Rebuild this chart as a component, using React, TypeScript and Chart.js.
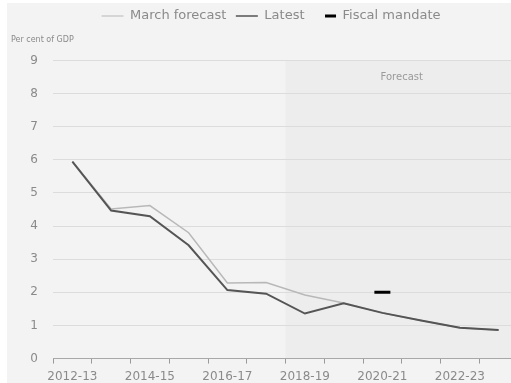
import React, { useEffect, useRef } from "react";
import { Chart, registerables } from "chart.js";

Chart.register(...registerables);

const categories = [
  "2012-13", "2013-14", "2014-15", "2015-16", "2016-17", "2017-18",
  "2018-19", "2019-20", "2020-21", "2021-22", "2022-23", "2023-24",
];
const marchForecast = [5.95, 4.52, 4.62, 3.8, 2.28, 2.3, 1.92, 1.68, 1.38, 1.15, 0.93, 0.86];
const latest = [5.95, 4.47, 4.3, 3.42, 2.07, 1.96, 1.36, 1.67, 1.38, 1.15, 0.93, 0.86];
const fiscalMandate = [null, null, null, null, null, null, null, null, 2.0, null, null, null];
const yTickValues = [0, 1, 2, 3, 4, 5, 6, 7, 8, 9];
const forecastStartIndex = 6;
const unitLabel = "Per cent of GDP";
const forecastLabel = "Forecast";

const FONT = "'DejaVu Sans', sans-serif";
const CANVAS_W = 529;
const CANVAS_H = 390;

const decorPlugin = {
  id: "decor",
  beforeDraw(chart: any) {
    const { ctx, chartArea, scales } = chart;
    const x = scales.x;
    const y = scales.y;
    ctx.save();
    ctx.fillStyle = "#ffffff";
    ctx.fillRect(0, 0, chart.width, chart.height);
    ctx.fillStyle = "#f3f3f3";
    ctx.fillRect(7, 3, chart.width - 7, chart.height - 3);
    const half = (x.getPixelForTick(1) - x.getPixelForTick(0)) / 2;
    const fx = x.getPixelForTick(forecastStartIndex) - half;
    const top = y.getPixelForValue(yTickValues[yTickValues.length - 1]);
    ctx.fillStyle = "#ededed";
    ctx.fillRect(fx, top, chart.width - fx, chartArea.bottom - top);
    ctx.restore();
  },
  afterDraw(chart: any) {
    const { ctx, scales } = chart;
    const x = scales.x;
    const y = scales.y;
    ctx.save();
    ctx.fillStyle = "#8a8a8a";
    ctx.font = "8px " + FONT;
    ctx.textAlign = "left";
    ctx.textBaseline = "middle";
    ctx.fillText(unitLabel, 11, 40);
    ctx.font = "10px " + FONT;
    ctx.fillStyle = "#9a9a9a";
    ctx.textAlign = "center";
    const half = (x.getPixelForTick(1) - x.getPixelForTick(0)) / 2;
    ctx.fillText(forecastLabel, x.getPixelForTick(8) + half, y.getPixelForValue(8.5));
    ctx.restore();
  },
};

export default function App() {
  const ref = useRef<HTMLCanvasElement>(null);
  useEffect(() => {
    if (!ref.current) return;
    Chart.defaults.font.family = FONT;
    const chart = new Chart(ref.current, {
      type: "line",
      data: {
        labels: categories,
        datasets: [
          {
            label: "March forecast",
            data: marchForecast,
            borderColor: "#b8b8b8",
            backgroundColor: "#b8b8b8",
            borderWidth: 1.5,
            pointRadius: 0,
            tension: 0,
            order: 2,
          },
          {
            label: "Latest",
            data: latest,
            borderColor: "#555555",
            backgroundColor: "#555555",
            borderWidth: 2,
            pointRadius: 0,
            tension: 0,
            order: 1,
          },
          {
            label: "Fiscal mandate",
            data: fiscalMandate as any,
            borderColor: "#000000",
            backgroundColor: "#000000",
            showLine: false,
            pointStyle: "line",
            pointRadius: 8,
            pointBorderWidth: 3,
            pointBorderColor: "#000000",
            order: 0,
          },
        ],
      },
      options: {
        responsive: false,
        animation: false,
        layout: { padding: { left: 13, right: 0, top: 0, bottom: 0 } },
        plugins: {
          tooltip: { enabled: false },
          legend: {
            display: true,
            position: "top",
            labels: {
              usePointStyle: true,
              pointStyleWidth: 22,
              padding: 9.5,
              color: "#8a8a8a",
              font: { size: 13, family: FONT },
              generateLabels: (c: any) =>
                c.data.datasets.map((ds: any, i: number) => ({
                  text: ds.label,
                  fillStyle: ds.borderColor,
                  strokeStyle: ds.borderColor,
                  lineWidth: i === 0 ? 1.2 : i === 1 ? 1.6 : 3,
                  pointStyle: i === 2 ? "dash" : "line",
                  hidden: false,
                  datasetIndex: i,
                  fontColor: "#8a8a8a",
                })),
            },
          },
        },
        scales: {
          x: {
            type: "category",
            offset: true,
            grid: {
              offset: true,
              drawOnChartArea: false,
              drawTicks: true,
              tickLength: 5,
              color: "#9a9a9a",
            },
            border: { display: true, color: "#a8a8a8", width: 1 },
            ticks: {
              autoSkip: false,
              maxRotation: 0,
              minRotation: 0,
              padding: 6,
              color: "#8a8a8a",
              font: { size: 12, family: FONT },
              callback: (_v: any, i: number) => (i % 2 === 0 ? categories[i] : ""),
            },
          },
          y: {
            min: 0,
            max: 9.845,
            afterBuildTicks: (s: any) => {
              s.ticks = yTickValues.map((v) => ({ value: v }));
            },
            afterFit: (s: any) => {
              s.width = 40;
            },
            grid: { color: "#dcdcdc", lineWidth: 1, drawTicks: false },
            border: { display: false },
            ticks: {
              padding: 15,
              color: "#8a8a8a",
              font: { size: 12, family: FONT },
            },
          },
        },
      },
      plugins: [decorPlugin],
    });
    return () => chart.destroy();
  }, []);
  return (
    <div
      style={{
        position: "fixed",
        left: 0,
        top: 0,
        width: 511,
        height: 383,
        overflow: "hidden",
        background: "#fff",
      }}
    >
      <canvas
        ref={ref}
        width={CANVAS_W}
        height={CANVAS_H}
        style={{ display: "block", width: CANVAS_W, height: CANVAS_H }}
      />
    </div>
  );
}
